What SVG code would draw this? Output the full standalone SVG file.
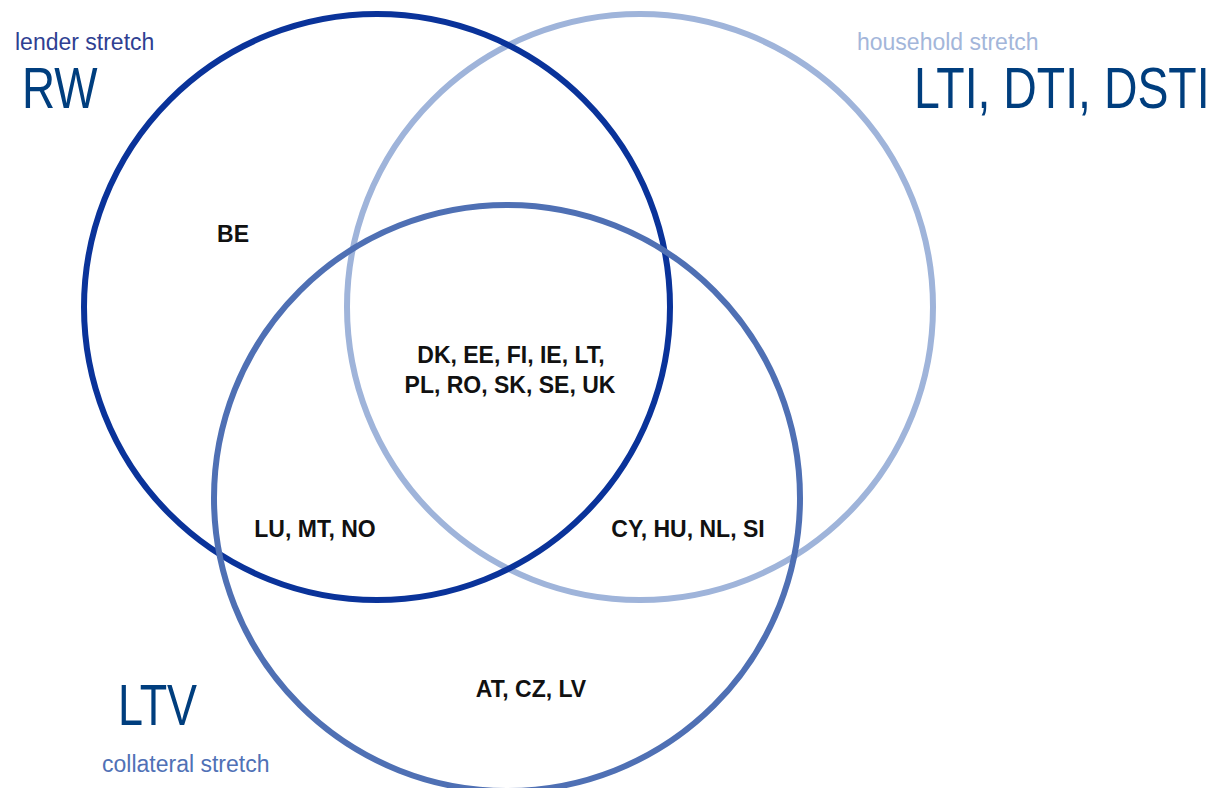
<svg xmlns="http://www.w3.org/2000/svg" width="1221" height="788" viewBox="0 0 1221 788">
<style>
.c{fill:none;stroke-width:6}
.big{font-family:"Liberation Sans",Arial,sans-serif;font-size:58px;fill:#003e7e}
.sm{font-family:"Liberation Sans",Arial,sans-serif;font-size:23px}
.lab{font-family:"Liberation Sans",Arial,sans-serif;font-size:23px;font-weight:bold;fill:#111;text-anchor:middle}
</style>
<rect width="1221" height="788" fill="#fff"/>
<g id="connectors"></g>
<g id="household"><circle class="c" cx="640" cy="307" r="293" stroke="#9fb4da"/>
<text class="sm" x="857" y="50" fill="#a3b6da">household stretch</text>
<text class="big" transform="translate(914,108) scale(0.8,1)">LTI, DTI, DSTI</text></g>
<g id="lender"><circle class="c" cx="377" cy="307" r="293" stroke="#0a339a"/>
<text class="sm" x="15" y="50" fill="#2f3f92">lender stretch</text>
<text class="big" transform="translate(22,108) scale(0.79,1)">RW</text></g>
<g id="collateral"><circle class="c" cx="507" cy="498" r="293" stroke="#4f70b4"/>
<text class="sm" x="102" y="772" fill="#5071b6">collateral stretch</text>
<text class="big" transform="translate(118,725) scale(0.775,1)">LTV</text></g>
<g id="labels">
<text class="lab" x="233" y="242">BE</text>
<text class="lab" x="511" y="363">DK, EE, FI, IE, LT,</text>
<text class="lab" x="510" y="393">PL, RO, SK, SE, UK</text>
<text class="lab" x="315" y="537">LU, MT, NO</text>
<text class="lab" x="688" y="537">CY, HU, NL, SI</text>
<text class="lab" x="531" y="697">AT, CZ, LV</text>
</g>
</svg>
